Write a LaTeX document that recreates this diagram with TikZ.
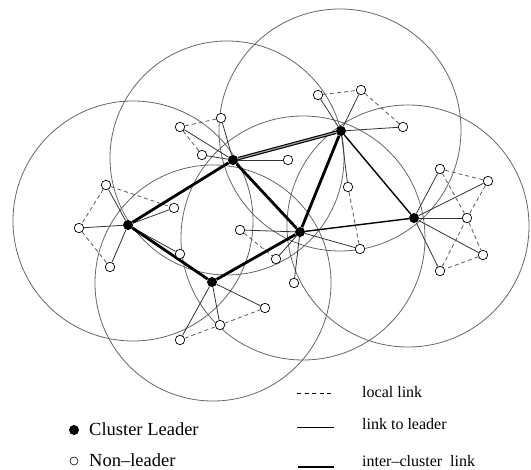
\documentclass[tikz,border=0pt]{standalone}
\usepackage{fontspec}
\setmainfont{Liberation Serif}
\pgfdeclarelayer{rings}
\pgfdeclarelayer{links}
\pgfsetlayers{rings,links,main}
\begin{document}
\begin{tikzpicture}[x=1pt,y=-1pt,
  ring/.style={draw=black!60,line width=0.8pt},
  leader/.style={circle,fill=black,inner sep=0pt,minimum size=10pt},
  member/.style={circle,draw=black,fill=white,inner sep=0pt,minimum size=9.5pt,line width=0.7pt},
  locallink/.style={draw=black!65,line width=0.8pt,dash pattern=on 4pt off 3pt},
  leaderlink/.style={draw=black!80,line width=0.8pt},
  interlink/.style={draw=black,line width=2.8pt},
  interthin/.style={draw=black,line width=1.4pt},
  interdouble/.style={draw=black,double=black!40,double distance=1.2pt,line width=1.1pt},
  legsmall/.style={anchor=base west,inner sep=0pt,font=\fontsize{16}{19}\selectfont},
  legbig/.style={anchor=base west,inner sep=0pt,font=\fontsize{18.5}{21}\selectfont}]
\useasboundingbox (0,0) rectangle (531,470);
% leaders
\node[leader] (L1) at (128,225) {};
\node[leader] (L2) at (233,160) {};
\node[leader] (L3) at (341,131) {};
\node[leader] (L4) at (300,232) {};
\node[leader] (L5) at (212,282) {};
\node[leader] (L6) at (414,218) {};
% members
\node[member] (a1) at (79,228) {};
\node[member] (a2) at (106,185) {};
\node[member] (a3) at (174,208) {};
\node[member] (a4) at (110,267) {};
\node[member] (a5) at (180,254) {};
\node[member] (b1) at (180,127) {};
\node[member] (b2) at (221,118) {};
\node[member] (b3) at (202,155) {};
\node[member] (b4) at (288,160) {};
\node[member] (c1) at (318,95) {};
\node[member] (c2) at (361,90) {};
\node[member] (c3) at (403,127) {};
\node[member] (c4) at (348,187) {};
\node[member] (d1) at (240,230) {};
\node[member] (d2) at (276,259) {};
\node[member] (d3) at (294,283) {};
\node[member] (d4) at (360,249) {};
\node[member] (e1) at (180,340) {};
\node[member] (e2) at (220,325) {};
\node[member] (e3) at (265,308) {};
\node[member] (f1) at (440,169) {};
\node[member] (f2) at (488,181) {};
\node[member] (f3) at (467,218) {};
\node[member] (f4) at (483,255) {};
\node[member] (f5) at (440,271) {};
% coverage circles
\begin{pgfonlayer}{rings}
\draw[ring] (133,221) circle[radius=120pt];
\draw[ring] (227,158) circle[radius=117pt];
\draw[ring] (340,130) circle[radius=121pt];
\draw[ring] (303,238) circle[radius=122pt];
\draw[ring] (213,283) circle[radius=118pt];
\draw[ring] (408,226) circle[radius=121pt];
\end{pgfonlayer}
\begin{pgfonlayer}{links}
% links to leader
\foreach \m in {a1,a2,a3,a4,a5} \draw[leaderlink] (L1) -- (\m);
\foreach \m in {b1,b2,b3,b4} \draw[leaderlink] (L2) -- (\m);
\foreach \m in {c1,c2,c3,c4} \draw[leaderlink] (L3) -- (\m);
\foreach \m in {d1,d2,d3,d4} \draw[leaderlink] (L4) -- (\m);
\foreach \m in {e1,e2,e3} \draw[leaderlink] (L5) -- (\m);
\foreach \m in {f1,f2,f3,f4,f5} \draw[leaderlink] (L6) -- (\m);
% local links
\draw[locallink] (a2) -- (a1) -- (a4);
\draw[locallink] (a2) -- (a3);
\draw[locallink] (b1) -- (b2);
\draw[locallink] (b1) -- (b3);
\draw[locallink] (c1) -- (c2) -- (c3);
\draw[locallink] (c4) -- (d4);
\draw[locallink] (d1) -- (d2);
\draw[locallink] (e1) -- (e2) -- (e3);
\draw[locallink] (f1) -- (f2) -- (f3) -- (f1);
\draw[locallink] (f3) -- (f4) -- (f5) -- (f3);
% inter-cluster links
\draw[interlink] (L1) -- (L2);
\draw[interlink] (L1) -- (L5);
\draw[interlink] (L2) -- (L4);
\draw[interlink] (L5) -- (L4);
\draw[interlink] (L3) -- (L4);
\draw[interdouble] (L2) -- (L3);
\draw[interthin] (L3) -- (L6);
\draw[interthin] (L4) -- (L6);
\end{pgfonlayer}
% legend
\node[circle,fill=black,inner sep=0pt,minimum size=10pt] (kl) at (74,430) {};
\node[legbig] (tl) at (89,436) {Cluster Leader};
\node[circle,draw=black,inner sep=0pt,minimum size=8pt,line width=0.6pt] (kn) at (74,461) {};
\node[legbig] (tn) at (89,466.5) {Non\textendash leader};
\coordinate (s1a) at (297,393); \coordinate (s1b) at (334,393);
\coordinate (s2a) at (297,427); \coordinate (s2b) at (334,427);
\coordinate (s3a) at (298,467); \coordinate (s3b) at (334,467);
\draw[draw=black,line width=0.8pt,dash pattern=on 4pt off 3.5pt] (s1a) -- (s1b);
\draw[draw=black,line width=0.9pt] (s2a) -- (s2b);
\draw[draw=black,line width=1.2pt] (s3a) -- (s3b);
\node[legsmall] (t1) at (362,398) {local link};
\node[legsmall] (t2) at (362,430) {link to leader};
\node[legsmall] (t3) at (362,467) {inter\textendash cluster\ \ link};
\end{tikzpicture}
\end{document}
